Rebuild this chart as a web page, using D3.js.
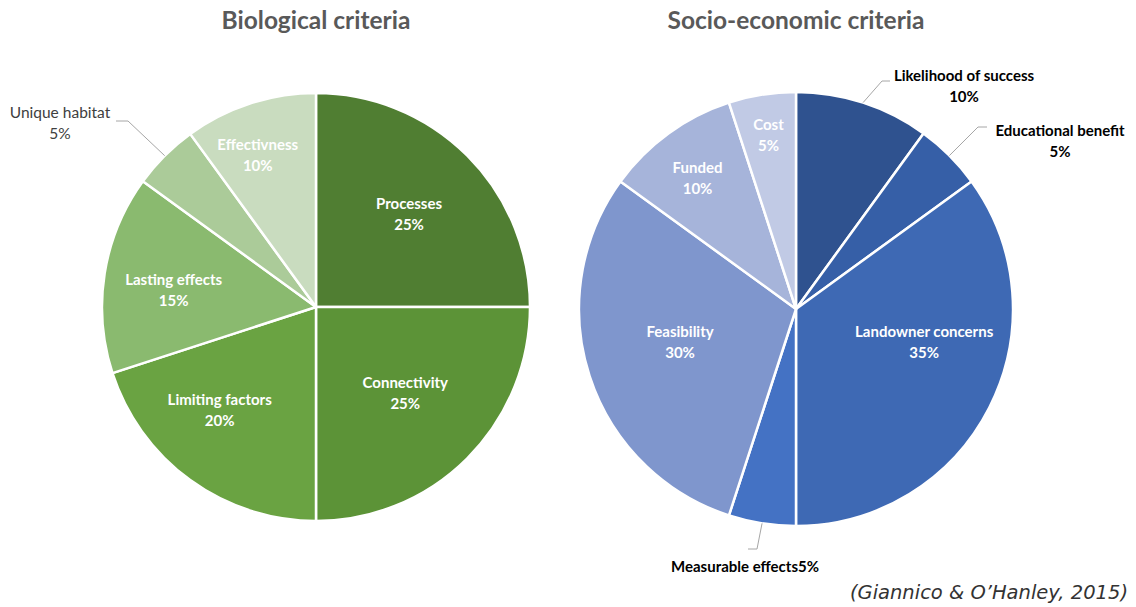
<!DOCTYPE html>
<html>
<head>
<meta charset="utf-8">
<script src="https://cdn.jsdelivr.net/npm/d3@7"></script>
<style>
  body { margin: 0; background: #fff; }
  svg text { font-family: Lato, "Open Sans", sans-serif; }
</style>
</head>
<body>
<div id="chart"></div>
<script>
// data
const bioLabels = ['Processes', 'Connectivity', 'Limiting factors', 'Lasting effects', 'Unique habitat', 'Effectivness']
const bioValues = [25, 25, 20, 15, 5, 10]
const bioColors = ['#507e32', '#5c9337', '#6aa342', '#8aba6f', '#abcb99', '#c9dcbf']

const socLabels = ['Likelihood of success', 'Educational benefit', 'Landowner concerns', 'Measurable effects', 'Feasibility', 'Funded', 'Cost']
const socValues = [10, 5, 35, 5, 30, 10, 5]
const socColors = ['#2f528f', '#365fa7', '#3e69b4', '#4472c4', '#7f96cd', '#a6b4da', '#c1cae5']

const titles = ['Biological criteria', 'Socio-economic criteria']
const citation = '(Giannico & O\u2019Hanley, 2015)'

// label layout: inside labels [radius fraction, angle shift deg], outside labels get leader lines
const bioInside = {0: [0.615, 0], 1: [0.58, -1], 2: [0.66, 7], 3: [0.67, -2], 5: [0.76, -3]}
const bioOutside = {4: {elbow: [-188, -186], end: -200, text: [-256, -194], bold: false, join: false}}
const socInside = {2: [0.61, -12.5], 4: [0.555, 2.3], 5: [0.754, -1], 6: [0.81, 0]}
const socOutside = {
  0: {elbow: [86, -228], end: 94, text: [168, -233], bold: true, join: false},
  1: {elbow: [182, -182], end: 191, text: [264, -178], bold: true, join: false},
  3: {elbow: [-39, 240], end: -48, text: [-51, 258], bold: true, join: true}
}

const width = 1136, height = 607
const fs = 15

const svg = d3.select('#chart').append('svg')
  .attr('width', width)
  .attr('height', height)
  .attr('viewBox', [0, 0, width, height])

function Pie(cx, cy, r, labels, values, colors, inside, outside) {
  const g = svg.append('g').attr('transform', `translate(${cx},${cy})`)
  const pie = d3.pie().sort(null).value(d => d)
  const arcs = pie(values)
  const arc = d3.arc().innerRadius(0).outerRadius(r)
  const toRad = Math.PI / 180

  g.append('g').classed('slices', true)
    .selectAll('path')
    .data(arcs)
    .enter().append('path')
    .attr('d', arc)
    .attr('fill', (d, i) => colors[i])
    .attr('stroke', '#fff')
    .attr('stroke-width', 2.5)
    .attr('stroke-linejoin', 'round')

  const total = d3.sum(values)

  arcs.forEach((d, i) => {
    const pct = Math.round(values[i] / total * 100) + '%'
    const mid = (d.startAngle + d.endAngle) / 2
    if (inside[i]) {
      const [k, shift] = inside[i]
      const a = mid + shift * toRad
      const x = Math.sin(a) * k * r, y = -Math.cos(a) * k * r
      const t = g.append('text')
        .attr('text-anchor', 'middle')
        .attr('fill', '#fff')
        .attr('font-weight', 'bold')
        .attr('font-size', fs)
      t.append('tspan').attr('x', x).attr('y', y - 5).text(labels[i])
      t.append('tspan').attr('x', x).attr('y', y + 16).text(pct)
    } else if (outside[i]) {
      const o = outside[i]
      const sx = Math.sin(mid) * r, sy = -Math.cos(mid) * r
      g.append('polyline')
        .attr('points', [[sx, sy], o.elbow, [o.end, o.elbow[1]]].join(' '))
        .attr('fill', 'none')
        .attr('stroke', '#a6a6a6')
        .attr('stroke-width', 1)
      const t = g.append('text')
        .attr('text-anchor', 'middle')
        .attr('fill', o.bold ? '#000' : '#404040')
        .attr('font-weight', o.bold ? 'bold' : 'normal')
        .attr('font-size', o.bold ? fs : fs + 0.5)
      if (o.join) {
        t.append('tspan').attr('x', o.text[0]).attr('y', o.text[1] + 5).text(labels[i] + pct)
      } else {
        t.append('tspan').attr('x', o.text[0]).attr('y', o.text[1] + 5).text(labels[i])
        t.append('tspan').attr('x', o.text[0]).attr('y', o.text[1] + 26).text(pct)
      }
    }
  })
}

Pie(316, 307, 214, bioLabels, bioValues, bioColors, bioInside, bioOutside)
Pie(796, 309, 217, socLabels, socValues, socColors, socInside, socOutside)

svg.selectAll('text.title')
  .data(titles)
  .enter().append('text')
  .classed('title', true)
  .attr('x', (d, i) => i === 0 ? 316 : 796)
  .attr('y', 29)
  .attr('text-anchor', 'middle')
  .attr('fill', '#595959')
  .attr('font-weight', 'bold')
  .attr('font-size', 24.5)
  .text(d => d)

svg.append('text')
  .attr('x', 1128)
  .attr('y', 599)
  .attr('text-anchor', 'end')
  .attr('fill', '#333')
  .attr('font-style', 'italic')
  .attr('font-size', 19.5)
  .style('font-family', '"DejaVu Sans", Verdana, sans-serif')
  .text(citation)
</script>
</body>
</html>
